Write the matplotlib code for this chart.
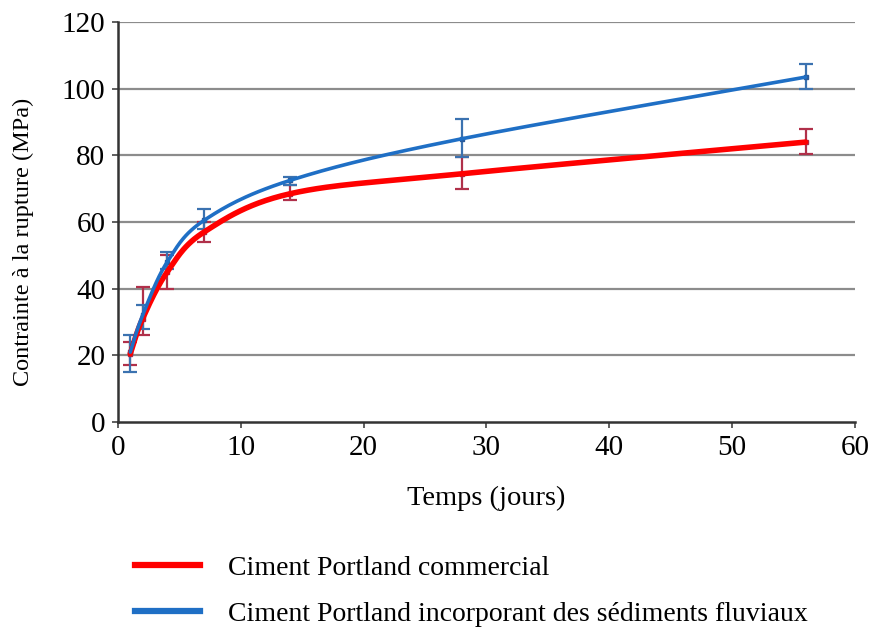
import numpy as np
import matplotlib
matplotlib.use("Agg")
import matplotlib.pyplot as plt
from matplotlib.lines import Line2D

days = [1, 2, 4, 7, 14, 28, 56]
red_vals = [20.5, 31, 45, 57, 68.5, 74.5, 84]
red_lo = [17, 26, 40, 54, 66.5, 70, 80.5]
red_hi = [24, 40.5, 50, 60, 71, 79.5, 88]
blue_vals = [21, 32, 48, 60.5, 72.5, 85, 103.5]
blue_lo = [15, 28, 46, 58, 71, 79.5, 100]
blue_hi = [26, 35, 51, 64, 73.5, 91, 107.5]
labels = ["Ciment Portland commercial",
          "Ciment Portland incorporant des sédiments fluviaux"]
xticks = [0, 10, 20, 30, 40, 50, 60]
yticks = [0, 20, 40, 60, 80, 100, 120]

plt.rcParams['font.family'] = ['Liberation Serif', 'DejaVu Serif']

def smooth(x, y, n=30, k=1.0):
    # Catmull-Rom style smoothing for display (like Excel smoothed line)
    x = np.asarray(x, float); y = np.asarray(y, float)
    px = np.concatenate([[x[0]], x, [x[-1]]])
    py = np.concatenate([[y[0]], y, [y[-1]]])
    xs, ys = [], []
    for i in range(1, len(px)-2):
        t = np.linspace(0, 1, n)
        p0, p1, p2, p3 = [np.array([px[j], py[j]]) for j in (i-1, i, i+1, i+2)]
        m1 = (p2 - p0) / 2 * k
        m2 = (p3 - p1) / 2 * k
        h00 = 2*t**3 - 3*t**2 + 1
        h10 = t**3 - 2*t**2 + t
        h01 = -2*t**3 + 3*t**2
        h11 = t**3 - t**2
        pts = np.outer(h00, p1) + np.outer(h10, m1) + np.outer(h01, p2) + np.outer(h11, m2)
        xs.extend(pts[:, 0]); ys.extend(pts[:, 1])
    return np.array(xs), np.array(ys)

fig = plt.figure(figsize=(8.74, 6.31), dpi=100)
ax = fig.add_axes([0.135, 0.331, 0.843, 0.634])

for v in yticks[1:]:
    ax.axhline(v, color='#8c8c8c', lw=1.6, zorder=0)

red_c = '#ff0000'; red_e = '#b0304a'
blue_c = '#1f6fc5'; blue_e = '#3b72b0'

rv = np.array(red_vals); bv = np.array(blue_vals)
ax.errorbar(days, red_vals, yerr=[rv-np.array(red_lo), np.array(red_hi)-rv], fmt='s',
            ms=3.5, color='#a03050', ecolor=red_e, elinewidth=1.6, capsize=5, capthick=1.6, zorder=2)
ax.errorbar(days, blue_vals, yerr=[bv-np.array(blue_lo), np.array(blue_hi)-bv], fmt='s',
            ms=3.5, color='#2a5a9a', ecolor=blue_e, elinewidth=1.6, capsize=5, capthick=1.6, zorder=2)

sx, sy = smooth(days, red_vals)
ax.plot(sx, sy, color=red_c, lw=4, zorder=3, solid_capstyle='round')
sx, sy = smooth(days, blue_vals)
ax.plot(sx, sy, color=blue_c, lw=2.6, zorder=4, solid_capstyle='round')

ax.set_xlim(0, 60)
ax.set_ylim(0, 120)
ax.set_xticks(xticks)
ax.set_yticks(yticks)
ax.tick_params(labelsize=21, direction='out', length=4, width=1.2, color='#444444', pad=5)
for s in ['top', 'right']:
    ax.spines[s].set_visible(False)
for s in ['left', 'bottom']:
    ax.spines[s].set_linewidth(1.8)
    ax.spines[s].set_color('#333333')

ax.set_xlabel('Temps (jours)', fontsize=20.5, labelpad=18)
ax.set_ylabel('Contrainte à la rupture (MPa)', fontsize=17.5)
ax.yaxis.set_label_coords(-0.114, 0.45)

handles = [Line2D([0], [0], color=red_c, lw=4.5), Line2D([0], [0], color=blue_c, lw=4.5)]
fig.legend(handles, labels, loc='upper left', bbox_to_anchor=(0.126, 0.159), frameon=False,
           fontsize=20, handlelength=2.35, handletextpad=1.0, labelspacing=0.72)

fig.savefig('out.png', dpi=100)
